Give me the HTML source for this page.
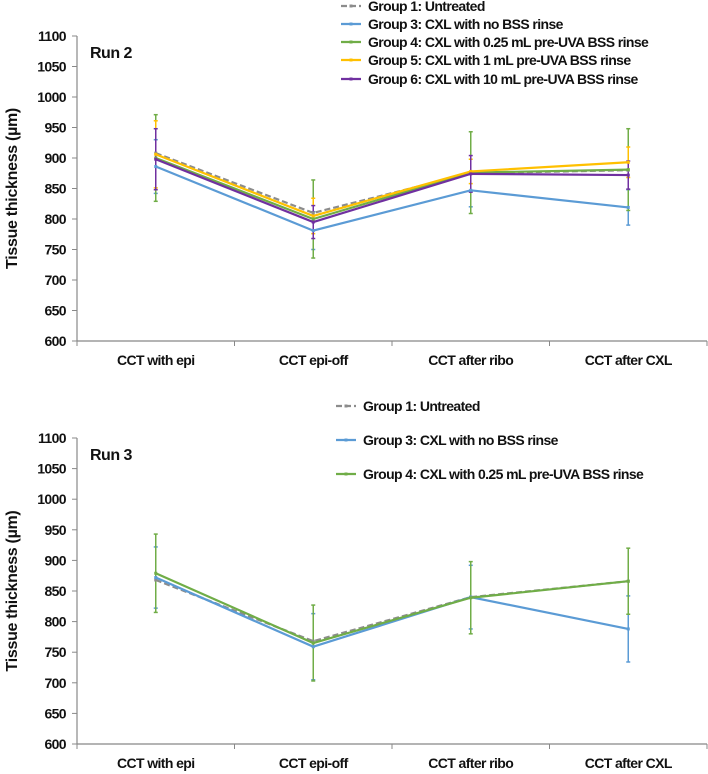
<!DOCTYPE html>
<html><head><meta charset="utf-8"><style>
html,body{margin:0;padding:0;background:#fff;}
svg{display:block;font-family:"Liberation Sans",sans-serif;font-weight:bold;}
</style></head><body>
<svg id="c" width="708" height="774" viewBox="0 0 708 774" xmlns="http://www.w3.org/2000/svg"></svg>
<script>
const categories = ["CCT with epi","CCT epi-off","CCT after ribo","CCT after CXL"];
const yTicks = [600,650,700,750,800,850,900,950,1000,1050,1100];
const run2Names = ["Group 1: Untreated","Group 3: CXL with no BSS rinse","Group 4: CXL with 0.25 mL pre-UVA BSS rinse","Group 5: CXL with 1 mL pre-UVA BSS rinse","Group 6: CXL with 10 mL pre-UVA BSS rinse"];
const run2G1 = [908,810,875,880];
const run2G3 = [886,781,847,819];
const run2G4 = [900,800,876,881];
const run2G5 = [906,805,878,893];
const run2G6 = [898,795,874,872];
const run2G1Err = [0,0,0,0];
const run2G3Err = [44,31,27,29];
const run2G4Err = [71,64,67,67];
const run2G5Err = [55,29,20,25];
const run2G6Err = [50,27,30,23];
const run3Names = ["Group 1: Untreated","Group 3: CXL with no BSS rinse","Group 4: CXL with 0.25 mL pre-UVA BSS rinse"];
const run3G1 = [868,768,840,866];
const run3G3 = [872,759,840,788];
const run3G4 = [879,765,839,866];
const run3G1Err = [0,0,0,0];
const run3G3Err = [50,54,52,54];
const run3G4Err = [64,62,59,54];

const NS="http://www.w3.org/2000/svg";
const svg=document.getElementById('c');
function mk(tag,attrs,parent,text){const e=document.createElementNS(NS,tag);for(const k in attrs)e.setAttribute(k,attrs[k]);if(text!==undefined)e.textContent=text;(parent||svg).appendChild(e);return e;}

function drawChart(id,top,bottom,title,names,series,errs,styles,legendYs,legendX){
  const g=mk('g',{});
  
  
  const x0=77,x1=707;
  const y=v=>bottom-(v-600)/500*(bottom-top);
  const bw=(x1-x0)/categories.length;
  const x=i=>x0+bw*(i+0.5);
  // axes
  const ya=mk('line',{x1:x0,y1:top,x2:x0,y2:bottom,stroke:'#888','stroke-width':1.2},g);
  
  const xa=mk('line',{x1:x0,y1:bottom,x2:x1,y2:bottom,stroke:'#888','stroke-width':1.2},g);
  
  yTicks.forEach(t=>{
    mk('line',{x1:x0-5,y1:y(t),x2:x0,y2:y(t),stroke:'#888'},g);
    const tl=mk('text',{x:x0-11,y:y(t)+5,'text-anchor':'end','font-size':14,'letter-spacing':-0.6,fill:'#111'},g,t);
    
  });
  for(let i=0;i<=categories.length;i++) mk('line',{x1:x0+bw*i,y1:bottom,x2:x0+bw*i,y2:bottom+5,stroke:'#888'},g);
  categories.forEach((c,i)=>{
    const tl=mk('text',{x:x(i),y:bottom+24,'text-anchor':'middle','font-size':14,'letter-spacing':-0.6,fill:'#111'},g,c);
    
  });
  const yt=mk('text',{transform:`translate(17,${(top+bottom)/2}) rotate(-90)`,'text-anchor':'middle','font-size':16,'letter-spacing':-0.3,fill:'#111'},g,'Tissue thickness (µm)');
  
  const tt=mk('text',{x:90,y:top+22,'font-size':16,'letter-spacing':-0.5,fill:'#111'},g,title);
  
  // error bars
  series.forEach((s,k)=>{
    const st=styles[k];
    s.forEach((v,i)=>{
      const e=errs[k][i]; if(!e) return;
      const eb=mk('g',{stroke:st.c,'stroke-width':1.5},g);
      
      mk('line',{x1:x(i),y1:y(v-e),x2:x(i),y2:y(v+e)},eb);
      mk('line',{x1:x(i)-2,y1:y(v-e),x2:x(i)+2,y2:y(v-e)},eb);
      mk('line',{x1:x(i)-2,y1:y(v+e),x2:x(i)+2,y2:y(v+e)},eb);
    });
  });
  // lines
  series.forEach((s,k)=>{
    const st=styles[k];
    const p=mk('polyline',{points:s.map((v,i)=>x(i)+','+y(v)).join(' '),fill:'none',stroke:st.c,'stroke-width':2.2,'stroke-dasharray':st.d||'none'},g);
    
    s.forEach((v,i)=>{
      const m=mk('rect',{x:x(i)-1.5,y:y(v)-1.5,width:3,height:3,fill:st.c},g);
      
    });
  });
  // legend
  names.forEach((n,k)=>{
    const st=styles[k];
    const lg=mk('g',{},g);
    
    const ly=legendYs[k];
    mk('line',{x1:legendX,y1:ly,x2:legendX+20,y2:ly,stroke:st.c,'stroke-width':2.2,'stroke-dasharray':st.d||'none'},lg);
    mk('rect',{x:legendX+8.5,y:ly-1.5,width:3,height:3,fill:st.c},lg);
    mk('text',{x:legendX+27,y:ly+5,'font-size':14,'letter-spacing':-0.6,fill:'#111'},lg,n);
  });
}
const st2=[{c:'#8c8c8c',d:'6 3'},{c:'#5b9bd5'},{c:'#70ad47'},{c:'#ffc000'},{c:'#7030a0'}];
drawChart('run2-chart',36,341,'Run 2',run2Names,[run2G1,run2G3,run2G4,run2G5,run2G6],[run2G1Err,run2G3Err,run2G4Err,run2G5Err,run2G6Err],st2,[6,24,42,60,79],341);
const st3=[{c:'#8c8c8c',d:'6 3'},{c:'#5b9bd5'},{c:'#70ad47'}];
drawChart('run3-chart',438,744,'Run 3',run3Names,[run3G1,run3G3,run3G4],[run3G1Err,run3G3Err,run3G4Err],st3,[406,440,474],336);
</script>
</body></html>
